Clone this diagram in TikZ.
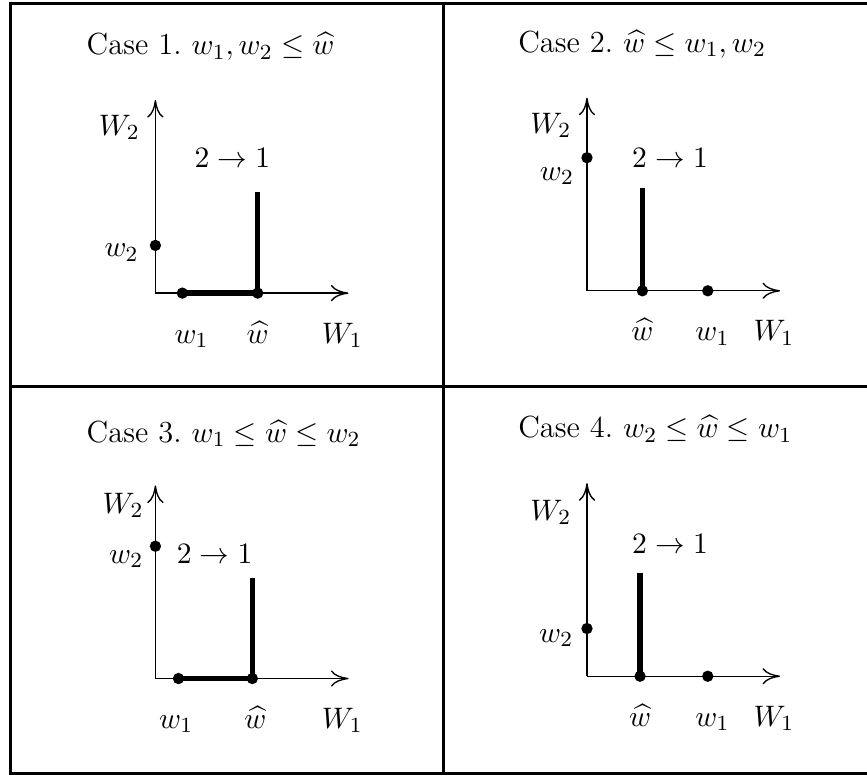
\documentclass[tikz,border=0pt]{standalone}
\usepackage{amsmath, amssymb}
\usepackage{tikz}
\usetikzlibrary{arrows.meta}

\begin{document}
\begin{tikzpicture}[
    font=\fontsize{11.3pt}{14pt}\selectfont,
    frame/.style={line width=1.1pt},
    axis/.style={line width=0.5pt, -{Computer Modern Rightarrow[length=6.5pt, width=6pt]}},
    region/.style={line width=2pt},
    dot/.style={circle, fill, inner sep=0pt, minimum size=4.2pt},
    lab/.style={anchor=base, inner sep=0pt},
    title/.style={anchor=base west, inner sep=0pt}
]
    \useasboundingbox (0,0) rectangle (11.27,10.09);
    % the table of four cases
    \draw[frame] (11.27,10.05) -- (0.14,10.05) -- (0.14,0.04) -- (11.27,0.04);
    \draw[frame] (5.76,10.05) -- (5.76,0.04);
    \draw[frame] (0.14,5.06) -- (11.27,5.06);

    % Case 1
    \begin{scope}[shift={(2.02,6.28)}]
        \coordinate (o1) at (0,0);
        \coordinate (xe1) at (2.51,0);
        \coordinate (ye1) at (0,2.51);
        \draw[axis] (o1) -- (xe1);
        \draw[axis] (o1) -- (ye1);
        \node[title] (t1) at (-0.9,3.1) {Case 1.\ $w_1, w_2 \le \widehat{w}$};
        \node[lab] (W21) at (-0.47,2.05) {$W_2$};
        \node[lab] (W11) at (2.43,-0.65) {$W_1$};
        \node[lab] (arr1) at (1.0,1.63) {$2 \rightarrow 1$};
        \coordinate (top1) at (1.33,1.31);
        \node[dot] (w1d1) at (0.35,0) {};
        \node[dot] (whd1) at (1.33,0) {};
        \node[dot] (w2d1) at (0,0.62) {};
        \draw[region] (w1d1.center) -- (whd1.center) -- (top1);
        \node[lab] (w1l1) at (0.47,-0.65) {$w_1$};
        \node[lab] (whl1) at (1.33,-0.65) {$\widehat{w}$};
        \node[lab] (w2l1) at (-0.44,0.47) {$w_2$};
    \end{scope}

    % Case 2
    \begin{scope}[shift={(7.63,6.31)}]
        \coordinate (o2) at (0,0);
        \coordinate (xe2) at (2.51,0);
        \coordinate (ye2) at (0,2.51);
        \draw[axis] (o2) -- (xe2);
        \draw[axis] (o2) -- (ye2);
        \node[title] (t2) at (-0.9,3.1) {Case 2.\ $\widehat{w} \le w_1, w_2$};
        \node[lab] (W22) at (-0.47,2.05) {$W_2$};
        \node[lab] (W12) at (2.43,-0.65) {$W_1$};
        \node[lab] (arr2) at (1.08,1.60) {$2 \rightarrow 1$};
        \coordinate (top2) at (0.72,1.34);
        \node[dot] (whd2) at (0.72,0) {};
        \node[dot] (w1d2) at (1.57,0) {};
        \node[dot] (w2d2) at (0,1.73) {};
        \draw[region] (whd2.center) -- (top2);
        \node[lab] (whl2) at (0.72,-0.65) {$\widehat{w}$};
        \node[lab] (w1l2) at (1.63,-0.65) {$w_1$};
        \node[lab] (w2l2) at (-0.39,1.44) {$w_2$};
    \end{scope}

    % Case 3
    \begin{scope}[shift={(2.02,1.27)}]
        \coordinate (o3) at (0,0);
        \coordinate (xe3) at (2.51,0);
        \coordinate (ye3) at (0,2.51);
        \draw[axis] (o3) -- (xe3);
        \draw[axis] (o3) -- (ye3);
        \node[title] (t3) at (-0.9,3.07) {Case 3.\ $w_1 \le \widehat{w} \le w_2$};
        \node[lab] (W23) at (-0.42,2.15) {$W_2$};
        \node[lab] (W13) at (2.43,-0.65) {$W_1$};
        \node[lab] (arr3) at (0.77,1.50) {$2 \rightarrow 1$};
        \coordinate (top3) at (1.26,1.31);
        \node[dot] (w1d3) at (0.30,0) {};
        \node[dot] (whd3) at (1.26,0) {};
        \node[dot] (w2d3) at (0,1.72) {};
        \draw[region] (w1d3.center) -- (whd3.center) -- (top3);
        \node[lab] (w1l3) at (0.27,-0.65) {$w_1$};
        \node[lab] (whl3) at (1.30,-0.65) {$\widehat{w}$};
        \node[lab] (w2l3) at (-0.38,1.50) {$w_2$};
    \end{scope}

    % Case 4
    \begin{scope}[shift={(7.63,1.30)}]
        \coordinate (o4) at (0,0);
        \coordinate (xe4) at (2.51,0);
        \coordinate (ye4) at (0,2.51);
        \draw[axis] (o4) -- (xe4);
        \draw[axis] (o4) -- (ye4);
        \node[title] (t4) at (-0.9,3.1) {Case 4.\ $w_2 \le \widehat{w} \le w_1$};
        \node[lab] (W24) at (-0.47,2.03) {$W_2$};
        \node[lab] (W14) at (2.43,-0.65) {$W_1$};
        \node[lab] (arr4) at (1.08,1.60) {$2 \rightarrow 1$};
        \coordinate (top4) at (0.69,1.34);
        \node[dot] (whd4) at (0.69,0) {};
        \node[dot] (w1d4) at (1.57,0) {};
        \node[dot] (w2d4) at (0,0.62) {};
        \draw[region] (whd4.center) -- (top4);
        \node[lab] (whl4) at (0.69,-0.65) {$\widehat{w}$};
        \node[lab] (w1l4) at (1.63,-0.65) {$w_1$};
        \node[lab] (w2l4) at (-0.40,0.44) {$w_2$};
    \end{scope}
\end{tikzpicture}
\end{document}
